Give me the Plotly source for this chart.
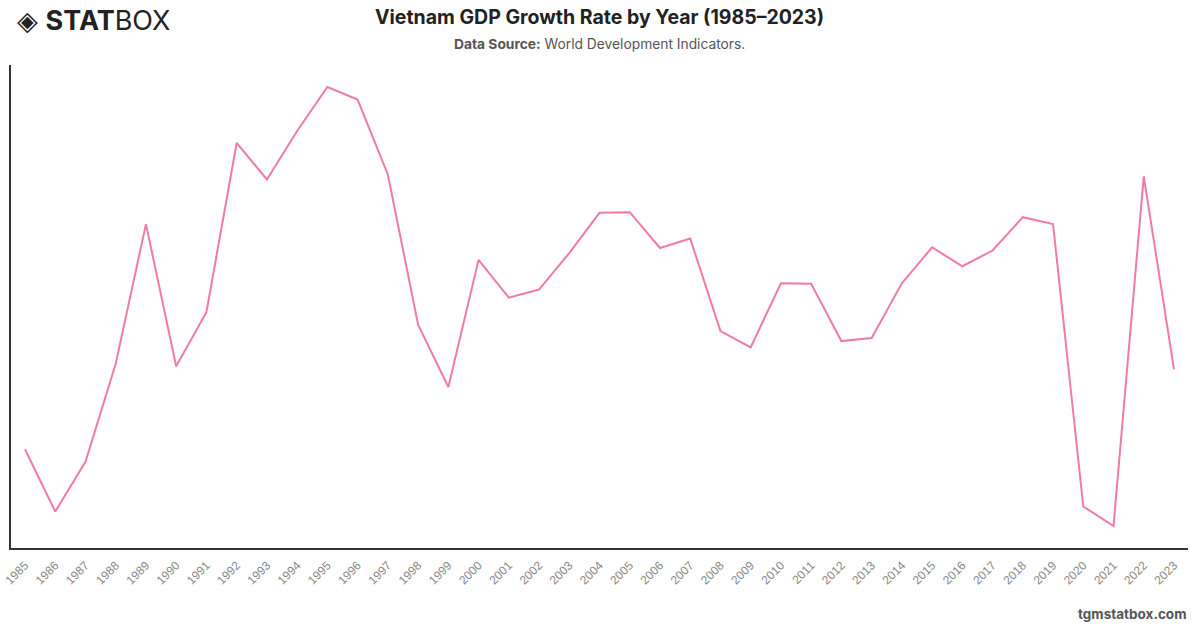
import plotly.graph_objects as go

years = list(range(1985, 2024))
growth = [3.78, 2.79, 3.58, 5.14, 7.36, 5.10, 5.96, 8.65, 8.07, 8.84,
          9.54, 9.34, 8.15, 5.76, 4.77, 6.79, 6.19, 6.32, 6.90, 7.54,
          7.55, 6.98, 7.13, 5.66, 5.40, 6.42, 6.41, 5.50, 5.55, 6.42,
          6.99, 6.69, 6.94, 7.47, 7.36, 2.87, 2.56, 8.12, 5.05]
tick_labels = [str(y) for y in years]

fig = go.Figure()
fig.add_trace(go.Scatter(x=years, y=growth, mode="lines",
                         line=dict(color="#f07aaa", width=2),
                         hoverinfo="x+y"))

fig.update_layout(
    width=1200, height=628,
    margin=dict(l=11, r=12, t=65, b=80, autoexpand=False),
    paper_bgcolor="white", plot_bgcolor="white",
    showlegend=False,
    font=dict(family="Inter, Roboto, sans-serif"),
    xaxis=dict(range=[1984.537, 2023.463], tickmode="array", tickvals=years,
               ticktext=tick_labels, tickangle=-45, showgrid=False,
               zeroline=False, showline=True, linecolor="#333", linewidth=1.5,
               ticks="", automargin=False, ticklabelstandoff=4,
               tickfont=dict(size=12, color="#888",
                             family="Liberation Sans, Arial, sans-serif")),
    yaxis=dict(range=[2.21, 9.89], showgrid=False, zeroline=False,
               showline=True, linecolor="#333", linewidth=1.5,
               showticklabels=False, ticks="", automargin=False),
)

fig.add_annotation(xref="paper", yref="paper", x=0.5, y=1,
                   xanchor="center", yanchor="bottom", yshift=34,
                   text="<b>Vietnam GDP Growth Rate by Year (1985–2023)</b>",
                   showarrow=False, font=dict(size=19.5, color="#222"))
fig.add_annotation(xref="paper", yref="paper", x=0.5, y=1,
                   xanchor="center", yanchor="bottom", yshift=11,
                   text="<b>Data Source:</b> World Development Indicators.",
                   showarrow=False, font=dict(size=13.8, color="#555"))
fig.add_annotation(xref="paper", yref="paper", x=0.003, y=1,
                   xanchor="left", yanchor="bottom", yshift=26,
                   text="◈ <b>STAT</b>BOX",
                   showarrow=False, font=dict(size=27, color="#222"))
fig.add_annotation(xref="paper", yref="paper", x=1, y=0,
                   xanchor="right", yanchor="top", yshift=-56,
                   text="<b>tgmstatbox.com</b>",
                   showarrow=False, font=dict(size=13.5, color="#555"))

fig.write_html("out.html")
